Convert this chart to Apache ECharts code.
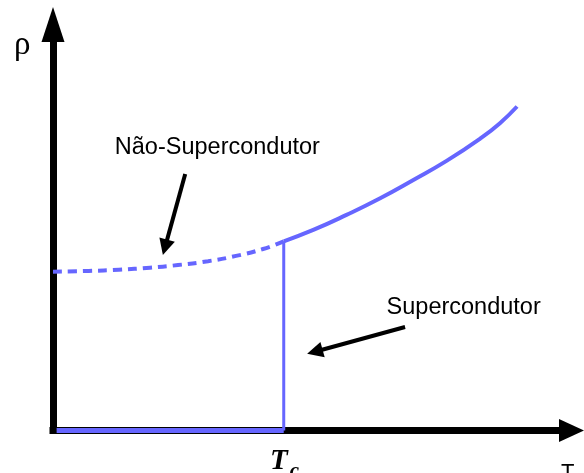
<!DOCTYPE html>
<html>
<head>
<meta charset="utf-8">
<script src="https://cdn.jsdelivr.net/npm/echarts@6/dist/echarts.min.js"></script>
<style>
  html, body { margin: 0; padding: 0; background: #fff; }
  #chart { width: 584px; height: 473px; }
</style>
</head>
<body>
<div id="chart"></div>
<script>
// Resistivity vs temperature for a superconductor (arbitrary units, 0–100 on both axes)

// Normal-state extrapolation below Tc (dashed)
const normalBelowT   = [0, 6.9, 12.7, 18.7, 24.1, 29.9, 35.3, 40.5, 44.5];
const normalBelowRho = [39.1, 39.3, 39.6, 40.1, 40.75, 41.7, 43.0, 44.7, 46.6];

// Normal state above Tc (solid)
const normalAboveT   = [44.5, 50.2, 56.6, 63.1, 69.5, 75.9, 82.4, 86.2, 89.5];
const normalAboveRho = [46.6, 49.4, 53.1, 57.2, 61.7, 66.4, 71.9, 75.7, 79.8];

// Superconducting branch: zero resistance up to Tc, then the jump
const tc = 44.5;
const rhoAtTc = 46.6;
const superT   = [0.7, tc];
const superRho = [0, 0];

// Annotation arrows: [tail, head] in data units
const arrowNormal = [[25.5, 63.2], [21.6, 45.1]];
const arrowSuper  = [[67.9, 25.5], [50.5, 19.4]];

// Annotation texts and where they sit
const labelNames = ['Não-Supercondutor', 'Supercondutor'];
const labelT     = [31.7, 79.2];
const labelRho   = [69.8, 30.4];

const BLUE = '#6666ff';
const zip = (xs, ys) => xs.map((x, i) => [x, ys[i]]);

const chart = echarts.init(document.getElementById('chart'), null, { renderer: 'canvas' });

const axisCommon = {
  type: 'value',
  min: 0,
  max: 100,
  axisTick: { show: false },
  axisLabel: { show: false },
  splitLine: { show: false }
};

chart.setOption({
  animation: false,
  backgroundColor: '#fff',
  grid: { left: 53, right: 12.5, top: 24.5, bottom: 42.5 },
  xAxis: Object.assign({}, axisCommon, {
    axisLine: {
      show: true, onZero: false,
      symbol: ['none', 'triangle'],
      symbolSize: [23, 25],
      lineStyle: { color: '#000', width: 7, cap: 'square' }
    }
  }),
  yAxis: Object.assign({}, axisCommon, {
    axisLine: {
      show: true, onZero: false,
      symbol: ['none', 'triangle'],
      symbolSize: [23, 35],
      lineStyle: { color: '#000', width: 7, cap: 'square' }
    }
  }),
  series: [
    {
      type: 'line', smooth: true, showSymbol: false, silent: true,
      data: zip(normalBelowT, normalBelowRho),
      lineStyle: { color: BLUE, width: 4, type: [9, 6] }
    },
    {
      type: 'line', smooth: true, showSymbol: false, silent: true,
      data: zip(normalAboveT, normalAboveRho),
      lineStyle: { color: BLUE, width: 4 }
    },
    {
      type: 'line', showSymbol: false, silent: true,
      data: zip(superT, superRho),
      lineStyle: { color: BLUE, width: 5 }
    },
    {
      type: 'line', showSymbol: false, silent: true,
      data: [[tc, 0], [tc, rhoAtTc]],
      lineStyle: { color: BLUE, width: 3 }
    },
    {
      type: 'lines', coordinateSystem: 'cartesian2d', silent: true,
      symbol: ['none', 'triangle'],
      symbolSize: [13, 16],
      lineStyle: { color: '#000', width: 4, opacity: 1, curveness: 0 },
      data: [{ coords: arrowNormal }, { coords: arrowSuper }]
    },
    {
      type: 'scatter', symbolSize: 0, silent: true,
      itemStyle: { opacity: 1 },
      data: labelNames.map((n, i) => ({ name: n, value: [labelT[i], labelRho[i]] })),
      label: {
        show: true, position: 'inside', formatter: '{b}', opacity: 1,
        color: '#000', fontSize: 23.5, fontFamily: 'Liberation Sans',
        textBorderWidth: 0, textBorderColor: 'transparent'
      }
    }
  ],
  graphic: [
    {
      type: 'text', left: 14, top: 29,
      style: { text: 'ρ', fontSize: 33, fontFamily: 'Liberation Serif', fill: '#000' }
    },
    {
      type: 'text', left: 561, top: 462,
      style: { text: 'T', fontSize: 22, fontFamily: 'Liberation Sans', fill: '#000' }
    },
    {
      type: 'text', left: 270, top: 447,
      style: {
        text: '{t|T}{c|c}',
        rich: {
          t: { fontSize: 29, fontStyle: 'italic', fontWeight: 'bold', fontFamily: 'Liberation Serif', fill: '#000' },
          c: { fontSize: 21, fontStyle: 'italic', fontWeight: 'bold', fontFamily: 'Liberation Serif', fill: '#000', padding: [20, 0, 0, 2] }
        }
      }
    }
  ]
});
</script>
</body>
</html>
